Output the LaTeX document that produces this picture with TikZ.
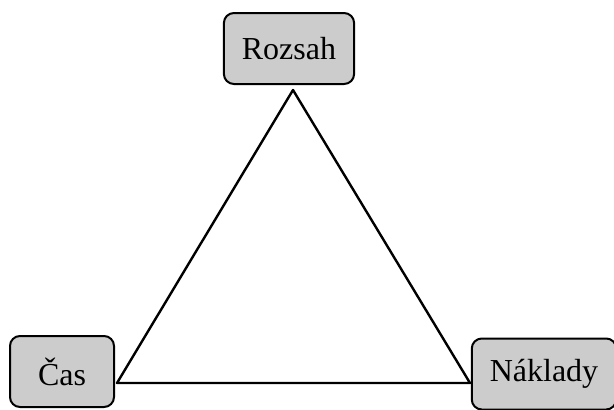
\documentclass[tikz,border=0pt]{standalone}
\usepackage{fontspec}
\setmainfont{Liberation Serif}
\tikzset{
  kbox/.style={draw, line width=2pt, rounded corners=10pt, fill=black!20,
    minimum height=71pt, inner xsep=18pt, font=\fontsize{32}{38}\selectfont}
}
\begin{document}
\begin{tikzpicture}[x=1pt,y=-1pt,line join=round,line cap=round]
  \useasboundingbox (0,0) rectangle (614,410);
  %% ba vrcholy
  \node[kbox] (rozsah) at (289,48.5) {Rozsah};
  \node[kbox,minimum width=104pt] (cas) at (62,371.5) {Čas};
  \node[kbox] (naklady) at (544,374) {Náklady};
  %% trojuhelnik
  \coordinate (vrchol) at (293,90);
  \coordinate (levy) at (117,383);
  \coordinate (pravy) at (470,383);
  \draw[line width=2.4pt] (vrchol)--(pravy)--(levy)--cycle;
\end{tikzpicture}
\end{document}
